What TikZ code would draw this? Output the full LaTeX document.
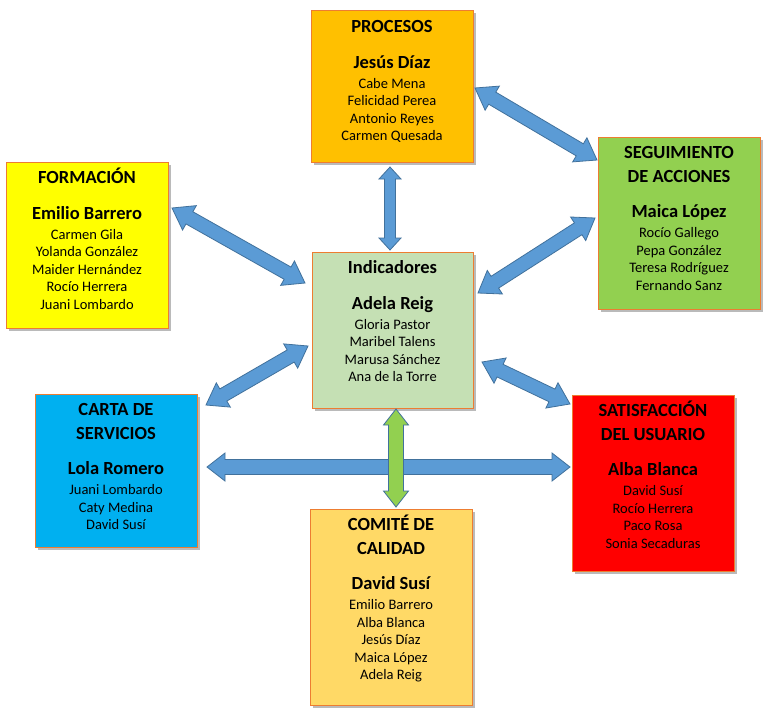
\documentclass[tikz,border=0pt]{standalone}
\usepackage{fontspec}
\setmainfont{Carlito}
\usetikzlibrary{calc,shadows}
\definecolor{procfill}{HTML}{FFC000}
\definecolor{formfill}{HTML}{FFFF00}
\definecolor{segfill}{HTML}{92D050}
\definecolor{indfill}{HTML}{C5E0B4}
\definecolor{cartafill}{HTML}{00B0F0}
\definecolor{satfill}{HTML}{FF0000}
\definecolor{comfill}{HTML}{FFD966}
\definecolor{boxline}{HTML}{ED7D31}
\definecolor{arrowfill}{HTML}{5B9BD5}
\definecolor{arrowline}{HTML}{41719C}
\definecolor{greenfill}{HTML}{92D050}
\newcommand\boxtitle[1]{{\fontsize{18.5}{22}\selectfont\bfseries #1}}
\newcommand\boxhead[1]{{\fontsize{18.5}{22}\selectfont\bfseries #1}}
\newcommand\firstline{\rule{0pt}{16pt}}
\newcommand\blockarrow[6]{%
  \path[#1] (#2) -- ($(#2)!#6!(#3)!#5!90:(#3)$) -- ($(#2)!#6!(#3)!#4!90:(#3)$)
   -- ($(#3)!#6!(#2)!#4!-90:(#2)$) -- ($(#3)!#6!(#2)!#5!-90:(#2)$) -- (#3)
   -- ($(#3)!#6!(#2)!#5!90:(#2)$) -- ($(#3)!#6!(#2)!#4!90:(#2)$)
   -- ($(#2)!#6!(#3)!#4!-90:(#3)$) -- ($(#2)!#6!(#3)!#5!-90:(#3)$) -- cycle;}
\tikzset{
  box/.style={draw=boxline, line width=1pt, minimum width=162pt, inner sep=0pt,
    drop shadow={shadow xshift=2.5pt, shadow yshift=-2.5pt, opacity=0.45, fill=black!60}},
  boxtext/.style={anchor=north, align=center, inner sep=0pt, text=black,
    font=\fontsize{14.5}{17.5}\selectfont},
  arrowblue/.style={fill=arrowfill, draw=arrowline, line width=0.8pt, line join=miter},
  arrowgreen/.style={fill=greenfill, draw=arrowline, line width=0.8pt, line join=miter}
}
\begin{document}
\begin{tikzpicture}[x=1pt,y=-1pt]
\useasboundingbox (0,0) rectangle (770,717);
\fill[white] (0,0) rectangle (770,717);
% boxes
\node[box, fill=procfill, minimum height=151pt] (proc) at (392,86.5) {};
\node[box, fill=formfill, minimum height=166pt] (form) at (87,245) {};
\node[box, fill=segfill, minimum height=172pt] (seg) at (679,223) {};
\node[box, fill=indfill, minimum width=161pt, minimum height=156pt] (ind) at (392.5,330) {};
\node[box, fill=cartafill, minimum height=153pt] (carta) at (116,470.5) {};
\node[box, fill=satfill, minimum height=176pt] (sat) at (653,483) {};
\node[box, fill=comfill, minimum height=196pt] (com) at (391,607) {};
% texts
\node[boxtext] (procT) at ($(proc.north)+(0,6)$) {\firstline\boxtitle{PROCESOS}\\[18pt]\boxhead{Jesús Díaz}\\[2.5pt]Cabe Mena\\Felicidad Perea\\Antonio Reyes\\Carmen Quesada};
\node[boxtext] (formT) at ($(form.north)+(0,6)$) {\firstline\boxtitle{FORMACIÓN}\\[18pt]\boxhead{Emilio Barrero}\\[2.5pt]Carmen Gila\\Yolanda González\\Maider Hernández\\Rocío Herrera\\Juani Lombardo};
\node[boxtext] (segT) at ($(seg.north)+(0,6)$) {\firstline\boxtitle{SEGUIMIENTO}\\[5.8pt]\boxtitle{DE ACCIONES}\\[18pt]\boxhead{Maica López}\\[2.5pt]Rocío Gallego\\Pepa González\\Teresa Rodríguez\\Fernando Sanz};
\node[boxtext] (indT) at ($(ind.north)+(0,6)$) {\firstline\boxtitle{Indicadores}\\[18pt]\boxhead{Adela Reig}\\[2.5pt]Gloria Pastor\\Maribel Talens\\Marusa Sánchez\\Ana de la Torre};
\node[boxtext] (cartaT) at ($(carta.north)+(0,6)$) {\firstline\boxtitle{CARTA DE}\\[5.8pt]\boxtitle{SERVICIOS}\\[18pt]\boxhead{Lola Romero}\\[2.5pt]Juani Lombardo\\Caty Medina\\David Susí};
\node[boxtext] (satT) at ($(sat.north)+(0,6)$) {\firstline\boxtitle{SATISFACCIÓN}\\[5.8pt]\boxtitle{DEL USUARIO}\\[18pt]\boxhead{Alba Blanca}\\[2.5pt]David Susí\\Rocío Herrera\\Paco Rosa\\Sonia Secaduras};
\node[boxtext] (comT) at ($(com.north)+(0,6)$) {\firstline\boxtitle{COMITÉ DE}\\[5.8pt]\boxtitle{CALIDAD}\\[18pt]\boxhead{David Susí}\\[2.5pt]Emilio Barrero\\Alba Blanca\\Jesús Díaz\\Maica López\\Adela Reig};
% arrow end points
\coordinate (a1s) at (390,167); \coordinate (a1e) at (390,250);
\coordinate (a2s) at (475,88);  \coordinate (a2e) at (597,160);
\coordinate (a3s) at (172,208); \coordinate (a3e) at (305,283);
\coordinate (a4s) at (595,218); \coordinate (a4e) at (478,293);
\coordinate (a5s) at (308,346); \coordinate (a5e) at (206,405);
\coordinate (a6s) at (482,362); \coordinate (a6e) at (570,404);
\coordinate (a7s) at (207,467); \coordinate (a7e) at (570,467);
\coordinate (a8s) at (396,409); \coordinate (a8e) at (396,507);
% arrows
\blockarrow{arrowblue}{a1s}{a1e}{5.5pt}{11pt}{12pt}
\blockarrow{arrowblue}{a2s}{a2e}{7pt}{14pt}{20pt}
\blockarrow{arrowblue}{a3s}{a3e}{7pt}{14pt}{20pt}
\blockarrow{arrowblue}{a4s}{a4e}{7pt}{14pt}{20pt}
\blockarrow{arrowblue}{a5s}{a5e}{7pt}{14pt}{20pt}
\blockarrow{arrowblue}{a6s}{a6e}{7pt}{14pt}{20pt}
\blockarrow{arrowblue}{a7s}{a7e}{7.5pt}{14pt}{18pt}
\blockarrow{arrowgreen}{a8s}{a8e}{7.5pt}{12.5pt}{16pt}
\end{tikzpicture}
\end{document}
